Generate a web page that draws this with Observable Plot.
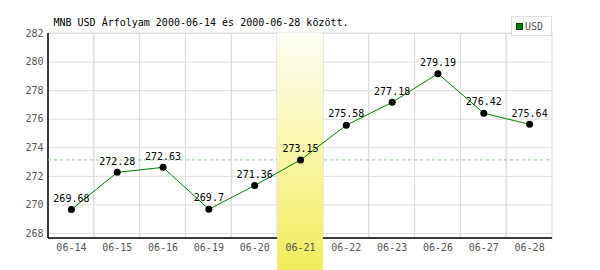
<!DOCTYPE html>
<html>
<head>
<meta charset="utf-8">
<script src="https://cdn.jsdelivr.net/npm/d3@7"></script>
<script src="https://cdn.jsdelivr.net/npm/@observablehq/plot@0.6"></script>
<style>
  html, body { margin: 0; padding: 0; background: #fff; }
  #wrap { position: relative; width: 600px; height: 270px; }
  #legend {
    position: absolute; left: 511px; top: 16px; width: 41px; height: 20px;
    border: 1px solid #dddddd; background: #fff; box-sizing: border-box;
    font-family: "DejaVu Sans Mono", monospace; font-size: 10px; color: #555;
    display: flex; align-items: center; padding-left: 4px;
  }
  #legend .sw { width: 5px; height: 5px; background: #008000; border: 1px solid #004000; margin-right: 2px; }
</style>
</head>
<body>
<div id="wrap"><div id="legend"><span class="sw"></span><span>USD</span></div></div>
<script>
const title = "MNB USD Árfolyam 2000-06-14 és 2000-06-28 között.";
const seriesName = "USD";
const dates = ["06-14","06-15","06-16","06-19","06-20","06-21","06-22","06-23","06-26","06-27","06-28"];
const values = [269.68, 272.28, 272.63, 269.7, 271.36, 273.15, 275.58, 277.18, 279.19, 276.42, 275.64];
const highlightDate = "06-21";
const refValue = 273.15;
const yTicks = [268, 270, 272, 274, 276, 278, 280, 282];
const yDomain = [267.65, 282];

const data = dates.map((d, i) => ({date: d, value: values[i]}));

const highlightMark = (index, scales, vals, dim) => {
  const x = scales.x;
  const bw = x.bandwidth ? x.bandwidth() : (dim.width - dim.marginLeft - dim.marginRight) / dates.length;
  const g = d3.create("svg:g");
  const grad = g.append("defs").append("linearGradient")
    .attr("id", "hlgrad").attr("x1", 0).attr("y1", 0).attr("x2", 0).attr("y2", 1);
  grad.append("stop").attr("offset", "0%").attr("stop-color", "#fffff6");
  grad.append("stop").attr("offset", "100%").attr("stop-color", "#f0ec5c");
  g.append("rect")
    .attr("x", x(highlightDate)).attr("width", bw)
    .attr("y", dim.marginTop).attr("height", dim.height - dim.marginTop)
    .attr("fill", "url(#hlgrad)");
  return g.node();
};

const axisLines = (index, scales, vals, dim) => {
  const g = d3.create("svg:g").attr("stroke", "#000").attr("stroke-width", 1.5);
  const bottom = dim.height - dim.marginBottom;
  g.append("line").attr("x1", dim.marginLeft).attr("x2", dim.marginLeft)
    .attr("y1", dim.marginTop).attr("y2", bottom);
  g.append("line").attr("x1", dim.marginLeft).attr("x2", dim.width - dim.marginRight)
    .attr("y1", bottom).attr("y2", bottom);
  return g.node();
};

const chart = Plot.plot({
  width: 600,
  height: 270,
  marginLeft: 48,
  marginRight: 48,
  marginTop: 33,
  marginBottom: 32,
  style: {fontFamily: "'DejaVu Sans Mono', monospace", fontSize: "10px", background: "white", overflow: "visible"},
  x: {type: "band", domain: dates, padding: 0, round: false},
  y: {domain: yDomain},
  marks: [
    Plot.ruleY(yTicks, {stroke: "#dddddd"}),
    Plot.barY(data, {x: "date", y1: yDomain[0], y2: yDomain[1], fill: "none", stroke: "#dddddd", inset: 0}),
    axisLines,
    Plot.ruleY([refValue], {stroke: "#88cc88", strokeDasharray: "3,3"}),
    highlightMark,
    Plot.axisX({tickSize: 0, tickPadding: 5, fill: "#555", label: null}),
    Plot.axisY({ticks: yTicks, tickSize: 0, tickPadding: 5, fill: "#555", label: null, tickFormat: d => String(d)}),
    Plot.line(data, {x: "date", y: "value", stroke: "#008000", strokeWidth: 1}),
    Plot.dot(data, {x: "date", y: "value", r: 3.5, fill: "#000", stroke: "none"}),
    Plot.text(data, {x: "date", y: "value", text: d => String(d.value), dy: -11, fill: "#000"}),
    Plot.text([title], {frameAnchor: "top-left", dx: 5, dy: -15, textAnchor: "start", fill: "#000"})
  ]
});
document.getElementById("wrap").prepend(chart);
</script>
</body>
</html>
